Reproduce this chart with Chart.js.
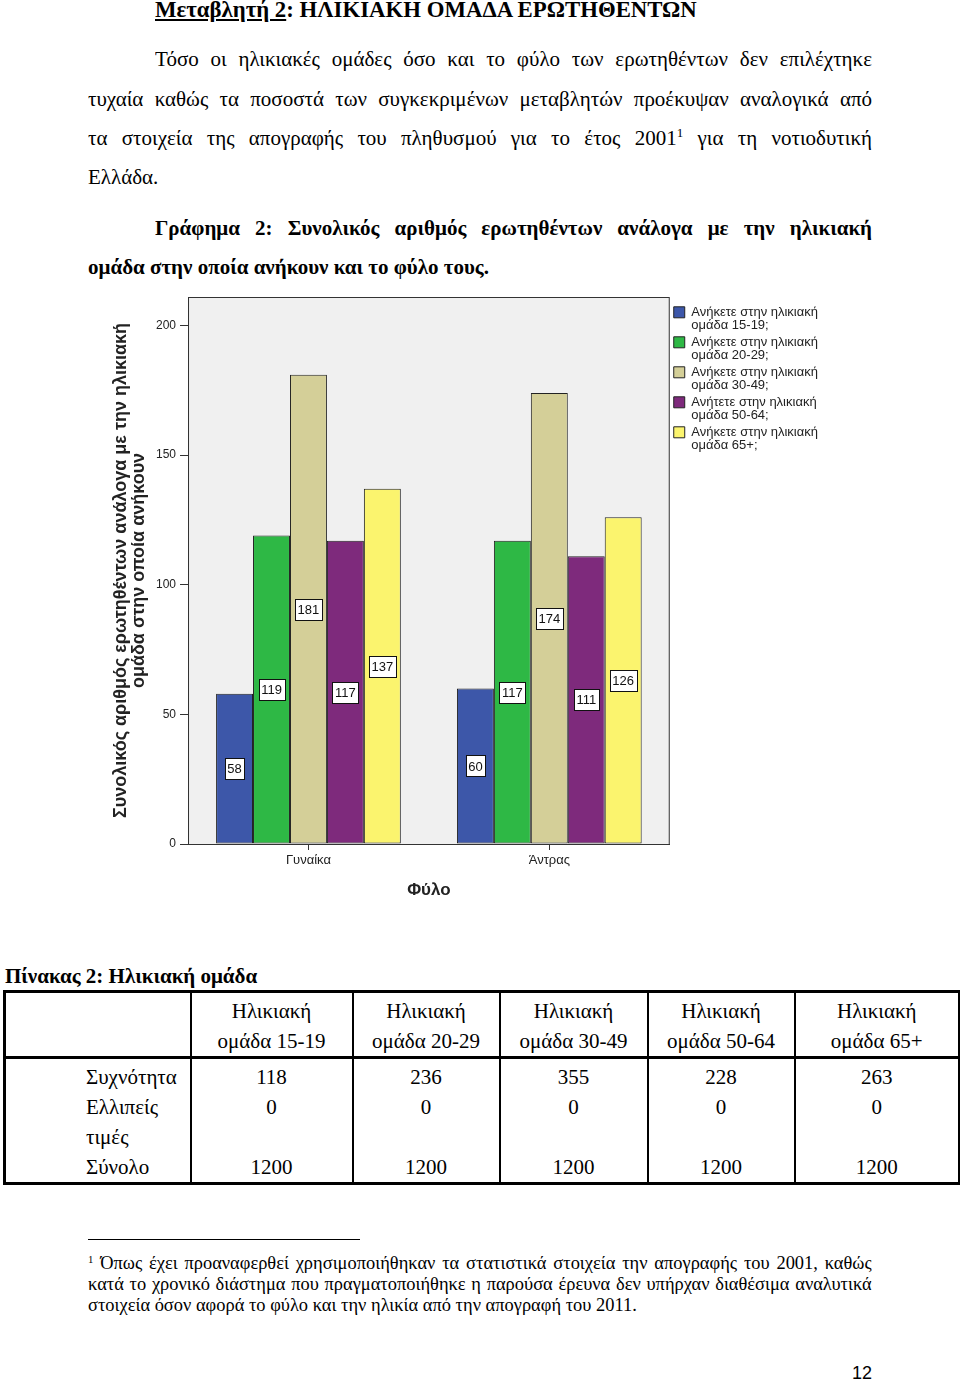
<!DOCTYPE html>
<html lang="el">
<head>
<meta charset="utf-8">
<title>Γράφημα 2 - Ηλικιακή ομάδα</title>
<script src="https://cdn.jsdelivr.net/npm/chart.js@4.4.1/dist/chart.umd.min.js"></script>
<style>
body { margin: 0; background: #fff; }
#page { position: relative; width: 960px; height: 1382px; overflow: hidden; font-family: "Liberation Serif", "Times New Roman", serif; color: #000; }
.line { position: absolute; font-size: 21px; line-height: 26px; white-space: nowrap; }
.just { text-align: justify; text-align-last: justify; white-space: normal; height: 26px; overflow: hidden; }
.b { font-weight: bold; }
sup { font-size: 13px; line-height: 0; vertical-align: 8px; }
#chartBox { position: absolute; left: 100px; top: 290px; width: 728px; height: 620px; }
#tblTitle { position: absolute; left: 5px; top: 964px; font-size: 21px; font-weight: bold; }
#ageTable { position: absolute; left: 3px; top: 990px; width: 955px; border-collapse: collapse; font-size: 21px; line-height: 30px; table-layout: fixed; }
#ageTable td { border: 2px solid #000; text-align: center; vertical-align: top; padding: 0; }
#ageTable tr.head td { height: 58px; padding-top: 3px; border-bottom-width: 3px; }
#ageTable tr.body td { height: 118px; padding-top: 3px; }
#ageTable td.rowhead { text-align: left; padding-left: 80px; }
#fnRule { position: absolute; left: 88px; top: 1239px; width: 272px; border-top: 1px solid #000; }
.fn { position: absolute; left: 88px; width: 808px; font-size: 19px; line-height: 21px; height: 21px; overflow: hidden; text-align: justify; text-align-last: justify; transform: scaleX(0.97); transform-origin: 0 0; }
#pageNo { position: absolute; left: 852px; top: 1363px; font-family: "Liberation Sans", Arial, sans-serif; font-size: 18px; }
</style>
</head>
<body>
<div id="page">
  <div class="line b" style="left:155px; top:-3px; font-size:22.8px;"><u>Μεταβλητή 2</u>: ΗΛΙΚΙΑΚΗ ΟΜΑΔΑ ΕΡΩΤΗΘΕΝΤΩΝ</div>
  <div class="line just" style="left:155px; width:717px; top:46px;">Τόσο οι ηλικιακές ομάδες όσο και το φύλο των ερωτηθέντων δεν επιλέχτηκε</div>
  <div class="line just" style="left:88px; width:784px; top:86px;">τυχαία καθώς τα ποσοστά των συγκεκριμένων μεταβλητών προέκυψαν αναλογικά από</div>
  <div class="line just" style="left:88px; width:784px; top:125px;">τα στοιχεία της απογραφής του πληθυσμού για το έτος 2001<sup>1</sup> για τη νοτιοδυτική</div>
  <div class="line" style="left:88px; top:164px;">Ελλάδα.</div>
  <div class="line just b" style="left:155px; width:717px; top:215px;">Γράφημα 2: Συνολικός αριθμός ερωτηθέντων ανάλογα με την ηλικιακή</div>
  <div class="line b" style="left:88px; top:254px;">ομάδα στην οποία ανήκουν και το φύλο τους.</div>

  <div id="chartBox"><canvas id="ageChart"></canvas></div>

  <div id="tblTitle">Πίνακας 2: Ηλικιακή ομάδα</div>
  <table id="ageTable"></table>

  <div id="fnRule"></div>
  <div class="fn" style="top:1252px;"><sup style="font-size:11px;vertical-align:6px;">1</sup> Όπως έχει προαναφερθεί χρησιμοποιήθηκαν τα στατιστικά στοιχεία την απογραφής του 2001, καθώς</div>
  <div class="fn" style="top:1273px;">κατά το χρονικό διάστημα που πραγματοποιήθηκε η παρούσα έρευνα δεν υπήρχαν διαθέσιμα αναλυτικά</div>
  <div class="fn" style="top:1294px; text-align-last:left;">στοιχεία όσον αφορά το φύλο και την ηλικία από την απογραφή του 2011.</div>
  <div id="pageNo">12</div>
</div>

<script>
// DATA
const genders = ["Γυναίκα", "Άντρας"];
const ageGroups = ["15-19", "20-29", "30-49", "50-64", "65+"];
const legendLines = [
    ["Ανήκετε στην ηλικιακή", "ομάδα 15-19;"],
    ["Ανήκετε στην ηλικιακή", "ομάδα 20-29;"],
    ["Ανήκετε στην ηλικιακή", "ομάδα 30-49;"],
    ["Ανήτετε στην ηλικιακή", "ομάδα 50-64;"],
    ["Ανήκετε στην ηλικιακή", "ομάδα 65+;"]
];
const counts15to19 = [58, 60];
const counts20to29 = [119, 117];
const counts30to49 = [181, 174];
const counts50to64 = [117, 111];
const counts65plus = [137, 126];
const yTicks = [0, 50, 100, 150, 200];

const tableFreq = [118, 236, 355, 228, 263];
const tableMissing = [0, 0, 0, 0, 0];
const tableTotal = [1200, 1200, 1200, 1200, 1200];

const colors = ["#3d57a9", "#2eb845", "#d4cf98", "#7e2a7c", "#fbf46e"];

// TABLE
const table = document.getElementById("ageTable");
const colWidths = [186, 162, 147, 148, 147, 165];
let html = "<colgroup>" + colWidths.map(w => `<col style="width:${w}px">`).join("") + "</colgroup>";
html += '<tr class="head"><td></td>' + ageGroups.map(g => `<td>Ηλικιακή<br>ομάδα ${g}</td>`).join("") + "</tr>";
html += '<tr class="body"><td class="rowhead">Συχνότητα<br>Ελλιπείς<br>τιμές<br>Σύνολο</td>' +
    ageGroups.map((g, i) => `<td>${tableFreq[i]}<br>${tableMissing[i]}<br><br>${tableTotal[i]}</td>`).join("") + "</tr>";
table.innerHTML = html;
table.style.border = "3px solid #000";

// CHART
const sans = "'Liberation Sans', Arial, sans-serif";

const plotFrame = {
    id: "plotFrame",
    beforeDraw(chart) {
        const { ctx, chartArea: a } = chart;
        ctx.save();
        ctx.fillStyle = "#f0f0f0";
        ctx.fillRect(a.left, a.top, a.right - a.left, a.bottom - a.top);
        ctx.restore();
    },
    afterDraw(chart) {
        const { ctx, chartArea: a } = chart;
        ctx.save();
        ctx.strokeStyle = "#333";
        ctx.lineWidth = 1;
        ctx.strokeRect(a.left + 0.5, a.top + 0.5, a.right - a.left - 1, a.bottom - a.top);
        ctx.restore();
    }
};

const barValueLabels = {
    id: "barValueLabels",
    afterDatasetsDraw(chart) {
        const ctx = chart.ctx;
        ctx.save();
        ctx.font = "13px " + sans;
        ctx.textAlign = "center";
        ctx.textBaseline = "middle";
        chart.data.datasets.forEach((ds, i) => {
            chart.getDatasetMeta(i).data.forEach((bar, j) => {
                const text = String(ds.data[j]);
                const cx = bar.x;
                const cy = (bar.y + bar.base) / 2;
                const w = Math.round(ctx.measureText(text).width + 5);
                const h = 21;
                const x0 = Math.round(cx - w / 2) + 0.5;
                const y0 = Math.round(cy - h / 2) + 0.5;
                ctx.fillStyle = "#fff";
                ctx.fillRect(x0, y0, w, h);
                ctx.strokeStyle = "#111";
                ctx.lineWidth = 1;
                ctx.strokeRect(x0, y0, w, h);
                ctx.fillStyle = "#111";
                ctx.fillText(text, cx, cy + 1);
            });
        });
        ctx.restore();
    }
};

const seriesData = [counts15to19, counts20to29, counts30to49, counts50to64, counts65plus];

new Chart(document.getElementById("ageChart"), {
    type: "bar",
    data: {
        labels: genders,
        datasets: seriesData.map((d, i) => ({
            label: legendLines[i].join(" "),
            data: d,
            backgroundColor: colors[i],
            borderColor: "#222",
            borderWidth: 1,
            borderSkipped: false,
            categoryPercentage: 0.767,
            barPercentage: 1
        }))
    },
    options: {
        responsive: true,
        maintainAspectRatio: false,
        animation: false,
        layout: { padding: { left: 8, top: 7, right: 0, bottom: 5 } },
        plugins: {
            tooltip: { enabled: false },
            legend: {
                position: "right",
                align: "start",
                title: { display: true, text: " ", padding: 0, font: { size: 4 } },
                labels: {
                    boxWidth: 11,
                    boxHeight: 11,
                    padding: 4,
                    color: "#222",
                    font: { family: sans, size: 13, lineHeight: 1.0 },
                    generateLabels(chart) {
                        const items = Chart.defaults.plugins.legend.labels.generateLabels(chart);
                        items.forEach((it, i) => { it.text = legendLines[i]; it.lineWidth = 1; });
                        return items;
                    }
                }
            }
        },
        scales: {
            x: {
                grid: { display: true, drawOnChartArea: false, offset: false, tickLength: 6, color: "#333" },
                border: { color: "#333" },
                ticks: { color: "#222", padding: 3, font: { family: sans, size: 13 } },
                title: {
                    display: true,
                    text: "Φύλο",
                    color: "#222",
                    padding: { top: 9, bottom: 4 },
                    font: { family: sans, size: 17, weight: "bold" }
                }
            },
            y: {
                min: 0,
                max: 211,
                afterBuildTicks(axis) {
                    axis.ticks = yTicks.map(v => ({ value: v }));
                },
                afterFit(axis) {
                    axis.paddingTop = 0;
                },
                grid: { display: true, drawOnChartArea: false, tickLength: 8, color: "#333" },
                border: { color: "#333" },
                ticks: { color: "#222", padding: 4, font: { family: sans, size: 12 } },
                title: {
                    display: true,
                    text: ["Συνολικός αριθμός ερωτηθέντων ανάλογα με την ηλικιακή", "ομάδα στην οποία ανήκουν"],
                    color: "#222",
                    padding: 4,
                    font: { family: sans, size: 18, weight: "bold", lineHeight: 1.0 }
                }
            }
        }
    },
    plugins: [plotFrame, barValueLabels]
});
</script>
</body>
</html>
